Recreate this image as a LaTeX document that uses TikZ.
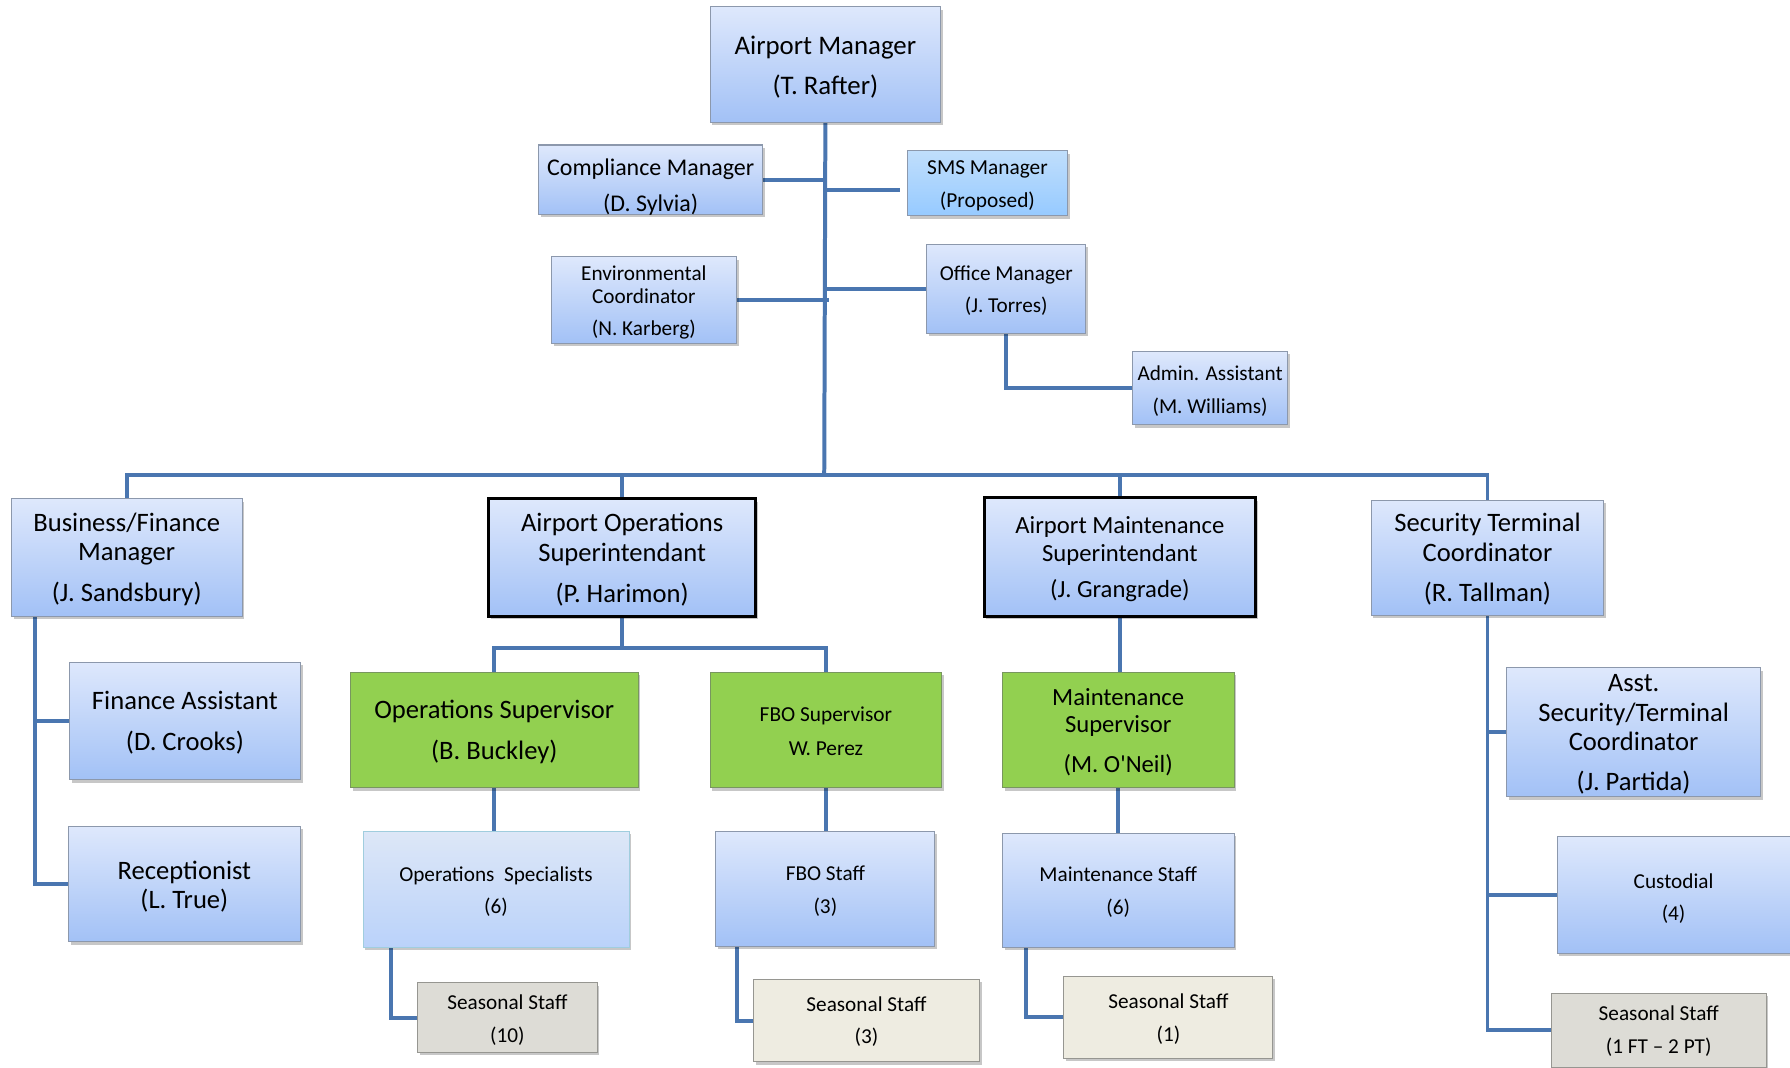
\documentclass[tikz,border=0pt]{standalone}
\usepackage{fontspec}
\setmainfont{Carlito}
\newfontfamily\plainfont{Carlito}[Ligatures=TeXOff]
\usetikzlibrary{shadows}
\definecolor{connc}{RGB}{74,118,176}
\definecolor{btop}{RGB}{222,232,252}
\definecolor{bbot}{RGB}{162,193,246}
\definecolor{bord}{RGB}{140,152,172}
\definecolor{smstop}{RGB}{192,222,252}
\definecolor{smsbot}{RGB}{150,202,255}
\definecolor{grn}{RGB}{146,208,80}
\definecolor{grnbord}{RGB}{120,150,95}
\definecolor{ostop}{RGB}{221,231,247}
\definecolor{osbot}{RGB}{186,210,250}
\definecolor{osbord}{RGB}{160,205,222}
\definecolor{graybox}{RGB}{221,220,214}
\definecolor{beige}{RGB}{238,236,225}
\definecolor{sbord}{RGB}{150,150,145}
\pgfdeclarelayer{bg}
\pgfsetlayers{bg,main}
\tikzset{
  shad/.style={drop shadow={shadow xshift=2pt,shadow yshift=-2.5pt,opacity=0.22,fill=black}},
  bluebox/.style={shad,draw=bord,line width=0.9pt,top color=btop,bottom color=bbot},
  thickbox/.style={shad,draw=black,line width=2.6pt,top color=btop,bottom color=bbot},
  smsbox/.style={shad,draw=bord,line width=0.9pt,top color=smstop,bottom color=smsbot},
  greenbox/.style={shad,draw=grnbord,line width=0.9pt,fill=grn},
  osbox/.style={shad,draw=osbord,line width=0.9pt,top color=ostop,bottom color=osbot},
  graysbox/.style={shad,draw=sbord,line width=0.9pt,fill=graybox},
  beigebox/.style={shad,draw=sbord,line width=0.9pt,fill=beige},
  txt/.style={align=center,inner sep=0pt,text=black},
  conn/.style={draw=connc,line width=3.5pt},
}
% name, x1, y1, x2, y2, style, text centre y, {size}{skip}, text
\newcommand\orgbox[9]{%
  \node[#6,inner sep=0pt,minimum width=#4pt-#2pt,minimum height=#5pt-#3pt]
    (#1) at ({(#2+#4)/2},{(#3+#5)/2}) {};
  \node[txt,font=\fontsize#8\selectfont] (#1t) at ({(#2+#4)/2},#7) {#9};%
}
\begin{document}
\begin{tikzpicture}[x=1pt,y=-1pt]
\useasboundingbox (0,0) rectangle (1568,935);
\begin{pgfonlayer}{bg}
\fill[white] (0,0) rectangle (1568,935);
\end{pgfonlayer}

\orgbox{am}{622}{6}{824}{107}{bluebox}{58.5}{{23.5}{35}}{Airport Manager\\(T. Rafter)}
\orgbox{cm}{472}{127}{668}{188}{bluebox}{164}{{21}{32}}{Compliance Manager\\(D. Sylvia)}
\orgbox{sms}{795}{132}{935}{189}{smsbox}{162.5}{{18.7}{29}}{SMS Manager\\(Proposed)}
\orgbox{env}{483}{225}{645}{301}{bluebox}{265}{{18.6}{20}}{Environmental\\Coordinator\\[8pt](N. Karberg)}
\orgbox{om}{812}{214}{951}{292}{bluebox}{255}{{18.6}{28}}{Office Manager\\(J. Torres)}
\orgbox{aa}{992}{308}{1128}{372}{bluebox}{342.5}{{18.6}{29}}{Admin. Assistant\\(M. Williams)}

\orgbox{bf}{10}{437}{212}{540}{bluebox}{490}{{23.3}{26}}{Business/Finance\\Manager\\[10pt](J. Sandsbury)}
\orgbox{aos}{428}{437}{662}{540}{thickbox}{490}{{23.3}{26}}{Airport Operations\\Superintendant\\[10pt](P. Harimon)}
\orgbox{ams}{862}{436}{1100}{540}{thickbox}{490}{{21.6}{24}}{Airport Maintenance\\Superintendant\\[8pt](J. Grangrade)}
\orgbox{stc}{1201}{438}{1405}{539}{bluebox}{489.5}{{23.3}{26}}{Security Terminal\\Coordinator\\[9pt](R. Tallman)}

\orgbox{fa}{61}{580}{263}{683}{bluebox}{633}{{23.3}{36}}{Finance Assistant\\(D. Crooks)}
\orgbox{rec}{60}{724}{263}{825}{bluebox}{776.5}{{23.3}{25}}{Receptionist\\(L. True)}

\orgbox{osup}{307}{589}{559}{690}{greenbox}{641}{{23.3}{36}}{Operations Supervisor\\(B. Buckley)}
\orgbox{fbo}{622}{589}{825}{690}{greenbox}{640.5}{{18.7}{29}}{FBO Supervisor\\W. Perez}
\orgbox{msup}{878}{589}{1081}{690}{greenbox}{641.5}{{21.6}{24}}{Maintenance\\Supervisor\\[11pt](M. O{\plainfont'}Neil)}

\orgbox{ospec}{318}{728}{551}{830}{osbox}{781}{{18.6}{28}}{Operations~ Specialists\\(6)}
\orgbox{fbos}{627}{728}{819}{829}{bluebox}{780.5}{{18.6}{29}}{FBO Staff\\(3)}
\orgbox{ms}{878}{730}{1081}{830}{bluebox}{781.5}{{18.6}{29}}{Maintenance Staff\\(6)}

\orgbox{asst}{1320}{585}{1542}{698}{bluebox}{643.5}{{23.3}{25.5}}{Asst.\\Security/Terminal\\Coordinator\\[10pt](J. Partida)}
\orgbox{cust}{1364}{733}{1568}{835}{bluebox}{787}{{18.6}{28}}{Custodial\\(4)}

\orgbox{ssa}{366}{861}{523}{922}{graysbox}{893.5}{{18.6}{29}}{Seasonal Staff\\(10)}
\orgbox{ssb}{660}{858}{858}{930}{beigebox}{895}{{18.6}{28}}{Seasonal Staff\\(3)}
\orgbox{ssc}{932}{855}{1115}{927}{beigebox}{892.5}{{18.6}{29}}{Seasonal Staff\\(1)}
\orgbox{ssd}{1359}{870}{1547}{935}{graysbox}{903.5}{{18.6}{29}}{Seasonal Staff\\(1 FT -- 2 PT)}

\coordinate (bus) at (722,416);
\coordinate (opsbus) at (545,568);
\coordinate (smsend) at (788,166);

\begin{pgfonlayer}{bg}
\draw[conn] (am.south) -- (bus);
\draw[conn] (bf.north) |- (bus) -| (stc.north);
\draw[conn] (aos.north) -- (aos.north |- bus);
\draw[conn] (ams.north) -- (ams.north |- bus);
\draw[conn] (cm.east) -- (cm.east -| bus);
\draw[conn] (smsend -| bus) -- (smsend);
\draw[conn] (env.east) -- ([xshift=4pt]env.east -| bus);
\draw[conn] (om.west) -- (om.west -| bus);
\draw[conn] (om.south) |- (aa.west);

\draw[conn] ([xshift=21pt]bf.south west) |- (rec.west);
\draw[conn] (fa.west) -| ([xshift=21pt]bf.south west);

\draw[conn] (aos.south) -- (opsbus);
\draw[conn] (osup.north) |- (opsbus) -| (fbo.north);
\draw[conn] (osup.south) -- (osup.south |- ospec.north);
\draw[conn] ([xshift=25pt]ospec.south west) |- (ssa.west);
\draw[conn] (fbo.south) -- (fbo.south |- fbos.north);
\draw[conn] ([xshift=19pt]fbos.south west) |- (ssb.west);

\draw[conn] (ams.south) -- (ams.south |- msup.north);
\draw[conn] (msup.south) -- (msup.south |- ms.north);
\draw[conn] ([xshift=21pt]ms.south west) |- (ssc.west);

\draw[conn] (stc.south) |- (ssd.west);
\draw[conn] (asst.west) -| (stc.south);
\draw[conn] (cust.west) -| (stc.south);
\end{pgfonlayer}
\end{tikzpicture}
\end{document}
